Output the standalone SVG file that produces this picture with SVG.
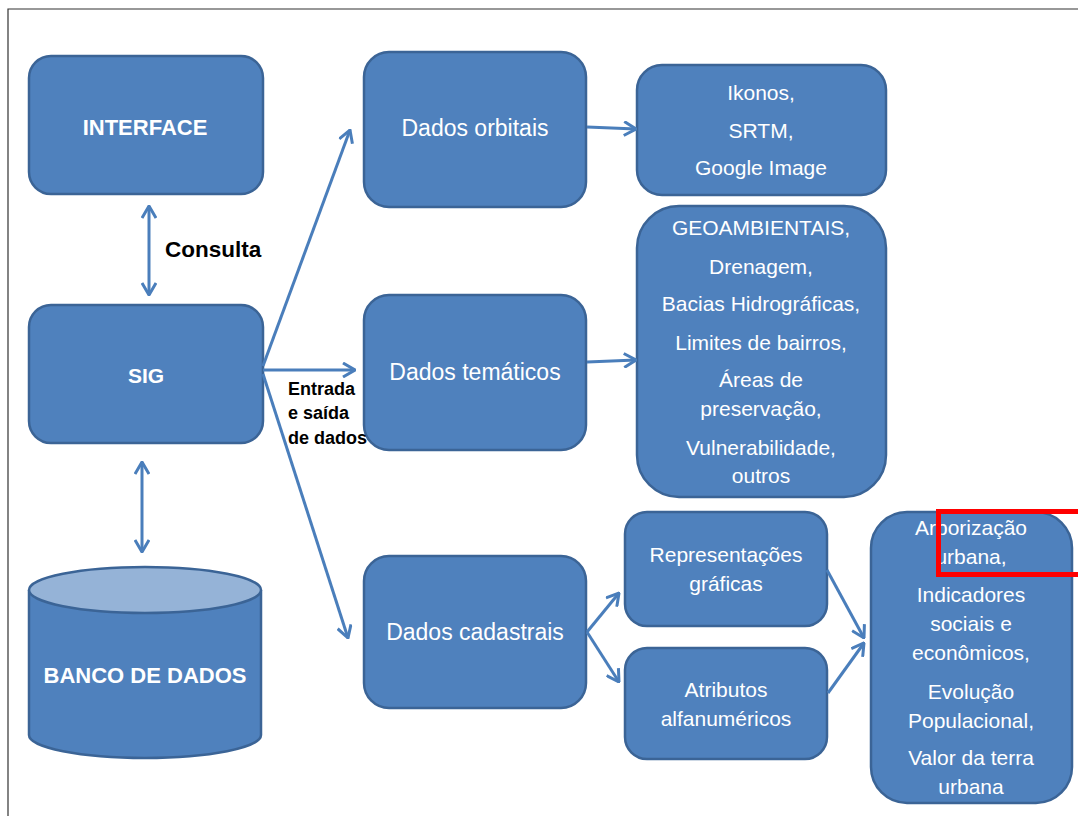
<svg xmlns="http://www.w3.org/2000/svg" width="1078" height="816" viewBox="0 0 1078 816">
<style>
.box{fill:#4F81BD;stroke:#3B6496;stroke-width:2.5}
.t{font-family:"Liberation Sans",Arial,sans-serif;fill:#FFFFFF;text-anchor:middle}
.big{font-size:23px}
.sm{font-size:21px}
.bold{font-weight:bold}
.lbl{font-family:"Liberation Sans",Arial,sans-serif;font-weight:bold;fill:#000000}
.con{fill:none;stroke:#4A7EBB;stroke-width:3}
</style>
<defs>
<marker id="ah" viewBox="0 0 14 16" refX="13" refY="8" markerWidth="14" markerHeight="16" markerUnits="userSpaceOnUse" orient="auto-start-reverse">
<path d="M1,1 L13,8 L1,15" fill="none" stroke="#4A7EBB" stroke-width="3" stroke-linejoin="miter"/>
</marker>
</defs>
<rect x="0" y="0" width="1078" height="816" fill="#FFFFFF"/>
<path d="M8,816 L8,9 L1078,9" fill="none" stroke="#333333" stroke-width="1.2"/>

<g id="interface">
<rect class="box" x="29" y="56" width="234" height="138" rx="22"/>
<text class="t bold" font-size="22" x="145" y="135">INTERFACE</text>
</g>
<g id="sig">
<rect class="box" x="29" y="305" width="234" height="138" rx="22"/>
<text class="t sm bold" x="146" y="383">SIG</text>
</g>
<g id="banco">
<path class="box" d="M29,590 L29,735 A116,23 0 0 0 261,735 L261,590"/>
<ellipse cx="145" cy="590" rx="116" ry="23" fill="#95B3D7" stroke="#3B6496" stroke-width="2.5"/>
<text class="t bold" font-size="22" x="145" y="683">BANCO DE DADOS</text>
</g>
<g id="orbitais">
<rect class="box" x="364" y="52" width="222" height="155" rx="25"/>
<text class="t big" x="475" y="136">Dados orbitais</text>
</g>
<g id="tematicos">
<rect class="box" x="364" y="295" width="222" height="155" rx="25"/>
<text class="t big" x="475" y="380">Dados temáticos</text>
</g>
<g id="cadastrais">
<rect class="box" x="364" y="556" width="222" height="152" rx="25"/>
<text class="t big" x="475" y="640">Dados cadastrais</text>
</g>
<g id="ikonos">
<rect class="box" x="637" y="65" width="249" height="130" rx="25"/>
<text class="t sm" x="761" y="100">Ikonos,</text>
<text class="t sm" x="761" y="138">SRTM,</text>
<text class="t sm" x="761" y="175">Google Image</text>
</g>
<g id="geo">
<rect class="box" x="637" y="206" width="249" height="291" rx="42"/>
<text class="t sm" x="761" y="235">GEOAMBIENTAIS,</text>
<text class="t sm" x="761" y="274">Drenagem,</text>
<text class="t sm" x="761" y="311">Bacias Hidrográficas,</text>
<text class="t sm" x="761" y="350">Limites de bairros,</text>
<text class="t sm" x="761" y="387">Áreas de</text>
<text class="t sm" x="761" y="416">preservação,</text>
<text class="t sm" x="761" y="455">Vulnerabilidade,</text>
<text class="t sm" x="761" y="483">outros</text>
</g>
<g id="representacoes">
<rect class="box" x="625" y="512" width="202" height="114" rx="22"/>
<text class="t sm" x="726" y="562">Representações</text>
<text class="t sm" x="726" y="591">gráficas</text>
</g>
<g id="atributos">
<rect class="box" x="625" y="648" width="202" height="111" rx="22"/>
<text class="t sm" x="726" y="697">Atributos</text>
<text class="t sm" x="726" y="726">alfanuméricos</text>
</g>
<g id="arborizacao">
<rect class="box" x="871" y="512" width="201" height="291" rx="36"/>
<text class="t sm" x="971" y="535">Arborização</text>
<text class="t sm" x="971" y="564">urbana,</text>
<text class="t sm" x="971" y="602">Indicadores</text>
<text class="t sm" x="971" y="631">sociais e</text>
<text class="t sm" x="971" y="660">econômicos,</text>
<text class="t sm" x="971" y="699">Evolução</text>
<text class="t sm" x="971" y="728">Populacional,</text>
<text class="t sm" x="971" y="765">Valor da terra</text>
<text class="t sm" x="971" y="794">urbana</text>
</g>

<g id="connectors">
<line class="con" x1="149" y1="206" x2="149" y2="295" marker-start="url(#ah)" marker-end="url(#ah)"/>
<line class="con" x1="142" y1="462" x2="142" y2="552" marker-start="url(#ah)" marker-end="url(#ah)"/>
<line class="con" x1="263" y1="366" x2="350" y2="130" marker-end="url(#ah)"/>
<line class="con" x1="263" y1="370" x2="355" y2="370" marker-end="url(#ah)"/>
<line class="con" x1="263" y1="374" x2="348" y2="638" marker-end="url(#ah)"/>
<line class="con" x1="587" y1="127" x2="636" y2="129" marker-end="url(#ah)"/>
<line class="con" x1="587" y1="362" x2="636" y2="360" marker-end="url(#ah)"/>
<line class="con" x1="587" y1="632" x2="619" y2="593" marker-end="url(#ah)"/>
<line class="con" x1="587" y1="632" x2="619" y2="682" marker-end="url(#ah)"/>
<line class="con" x1="827" y1="570" x2="864" y2="638" marker-end="url(#ah)"/>
<line class="con" x1="828" y1="693" x2="864" y2="643" marker-end="url(#ah)"/>
</g>

<g id="labels">
<text class="lbl" font-size="22.5" x="165" y="257">Consulta</text>
<text class="lbl" font-size="18" x="288" y="395">Entrada</text>
<text class="lbl" font-size="18" x="288" y="419">e saída</text>
<text class="lbl" font-size="18" x="288" y="444">de dados</text>
</g>

<rect x="938.5" y="511.5" width="150" height="63" fill="none" stroke="#FF0000" stroke-width="5"/>
</svg>
